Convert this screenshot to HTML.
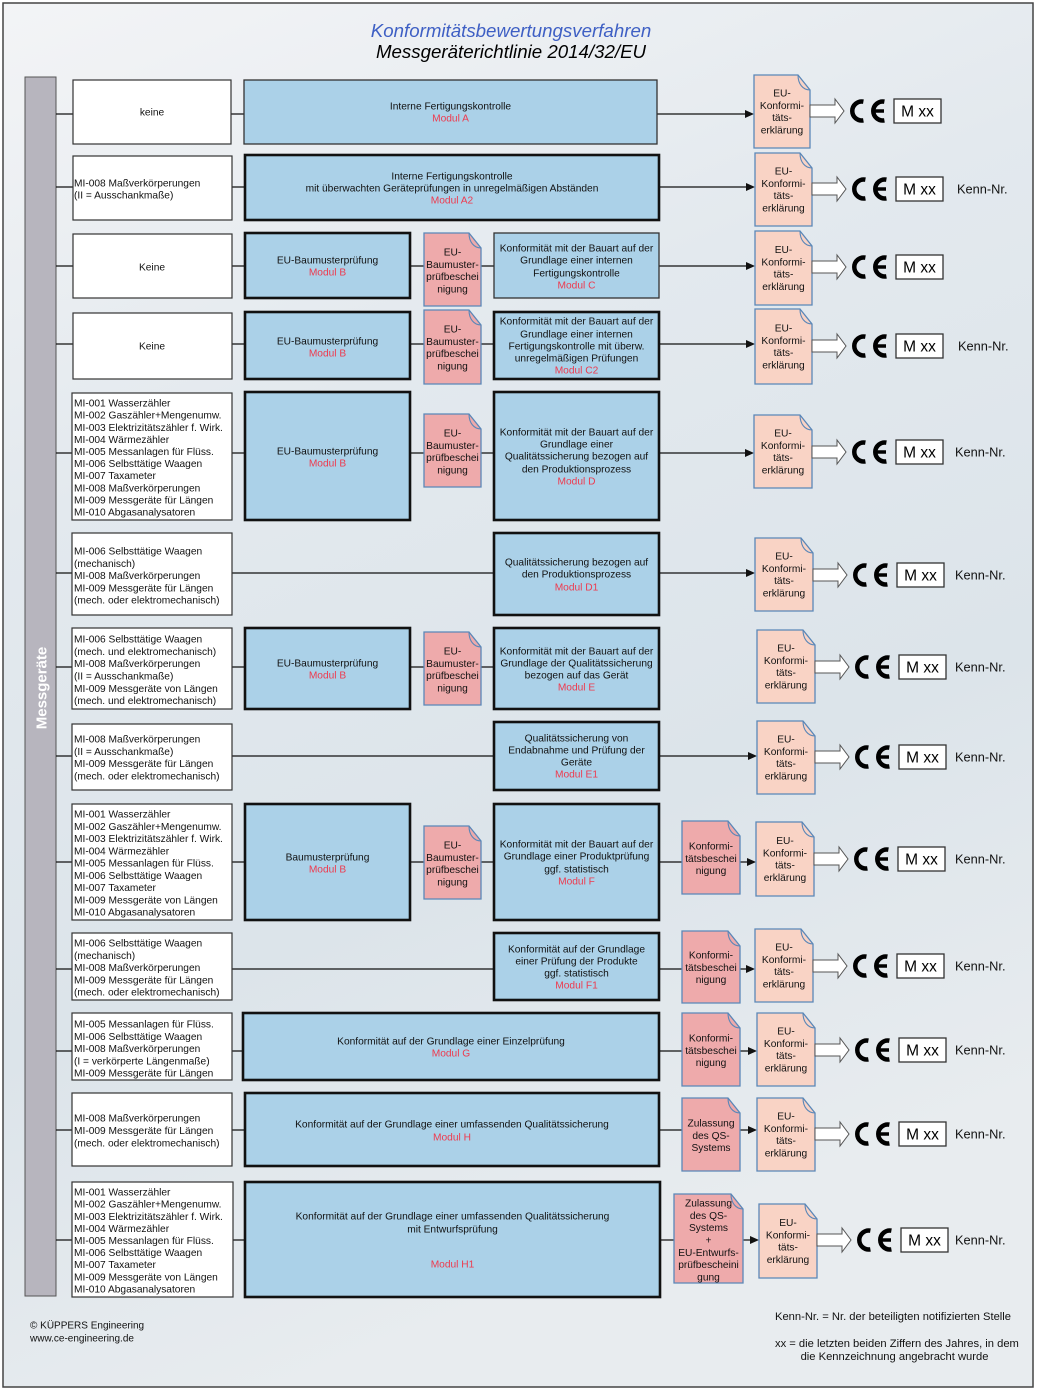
<!DOCTYPE html>
<html><head><meta charset="utf-8"><style>
html,body{margin:0;padding:0;background:#fff;width:1040px;height:1390px;overflow:hidden}
svg{display:block}
.t{font-family:"Liberation Sans",Arial,sans-serif;font-size:10.2px;fill:#111}
.m{fill:#ee3a4e}
.c{text-anchor:middle}
.ln{stroke:#111;stroke-width:1.2;fill:none}
.lb{fill:#fff;stroke:#333;stroke-width:1.2}
.bt{fill:#abd1e8;stroke:#333;stroke-width:1.3}
.bk{fill:#abd1e8;stroke:#111;stroke-width:2.6}
.de{fill:#f9d3c5;stroke:#5a87b8;stroke-width:1.3}
.dp{fill:#eeaaab;stroke:#5a87b8;stroke-width:1.3}
.fold{fill:none;stroke:#5a87b8;stroke-width:1.1}
.mx{font-family:"Liberation Sans",Arial,sans-serif;font-size:15.5px;fill:#000;text-anchor:middle}
.kn{font-family:"Liberation Sans",Arial,sans-serif;font-size:12.8px;fill:#111}
</style></head><body>
<svg width="1040" height="1390" viewBox="0 0 1040 1390" xmlns="http://www.w3.org/2000/svg">
<defs>
<linearGradient id="bg" x1="0" y1="0" x2="0.3" y2="1">
<stop offset="0" stop-color="#f3f4f6"/>
<stop offset="0.35" stop-color="#e3e9ee"/>
<stop offset="0.7" stop-color="#dce4ea"/>
<stop offset="1" stop-color="#e8ecef"/>
</linearGradient>
<g id="ce">
<polygon points="0,-6 25,-6 25,-12 34,0 25,12 25,6 0,6" fill="#fff" stroke="#555" stroke-width="1"/>
<path d="M53.4 -9.36 A9.5 9.5 0 1 0 53.4 9.36" fill="none" stroke="#000" stroke-width="4.5"/>
<path d="M74.4 -9.36 A9.5 9.5 0 1 0 74.4 9.36" fill="none" stroke="#000" stroke-width="4.5"/>
<path d="M64 0 H74" stroke="#000" stroke-width="3.5"/>
<rect x="84" y="-12" width="47" height="24" fill="#fff" stroke="#333" stroke-width="1.3"/>
</g>
</defs>

<rect x="3" y="3" width="1030" height="1384" fill="url(#bg)" stroke="#444" stroke-width="1.5"/>

<text x="511" y="37" class="c" style="font-family:'Liberation Sans',Arial,sans-serif;font-size:18.7px;font-style:italic;fill:#3e5fc4">Konformitätsbewertungsverfahren</text>
<text x="511" y="58" class="c" style="font-family:'Liberation Sans',Arial,sans-serif;font-size:18.7px;font-style:italic;fill:#000">Messgeräterichtlinie 2014/32/EU</text>

<!-- sidebar -->
<rect x="25" y="77" width="31" height="1219" fill="#b7b5be" stroke="#555" stroke-width="1"/>
<text transform="translate(46.5,688) rotate(-90)" class="c" style="font-family:'Liberation Sans',Arial,sans-serif;font-size:15px;font-weight:bold;fill:#fff">Messgeräte</text>

<!-- connectors -->
<g class="ln">
<path d="M56 114H73M231 114H244M657 114H746"/>
<path d="M56 187H73M232 187H245M659 187H747"/>
<path d="M56 266H73M232 266H245M410 266H424M481 266H494M659 266H747"/>
<path d="M56 344H73M232 344H245M410 344H424M481 344H494M659 344H747"/>
<path d="M56 453H72M232 453H245M410 453H424M481 453H494M659 453H746"/>
<path d="M56 573H72M232 573H494M659 573H747"/>
<path d="M56 667H72M232 667H245M410 667H424M481 667H494"/>
<path d="M56 756H72M232 756H494M659 756H749"/>
<path d="M56 862H72M232 862H245M410 862H424M481 862H494M659 862H682M740 862H748"/>
<path d="M56 969H72M232 969H494M659 969H682M740 969H747"/>
<path d="M56 1051H72M232 1051H243M659 1051H682M740 1051H749"/>
<path d="M56 1130H72M232 1130H245M659 1130H682M740 1130H749"/>
<path d="M56 1240H72M233 1240H245M660 1240H674M743 1240H751"/>
</g>
<g fill="#111">
<polygon points="754,114 745,110 745,118"/>
<polygon points="755,187 746,183 746,191"/>
<polygon points="755,266 746,262 746,270"/>
<polygon points="755,344 746,340 746,348"/>
<polygon points="754,453 745,449 745,457"/>
<polygon points="755,573 746,569 746,577"/>
<polygon points="757,756 748,752 748,760"/>
<polygon points="756,862 747,858 747,866"/>
<polygon points="755,969 746,965 746,973"/>
<polygon points="757,1051 748,1047 748,1055"/>
<polygon points="757,1130 748,1126 748,1134"/>
<polygon points="759,1240 750,1236 750,1244"/>
</g>

<!-- left boxes -->
<rect class="lb" x="73" y="80" width="158" height="64"/>
<rect class="lb" x="73" y="156" width="159" height="64"/>
<rect class="lb" x="73" y="234" width="159" height="64"/>
<rect class="lb" x="73" y="313" width="159" height="66"/>
<rect class="lb" x="72" y="393" width="160" height="127"/>
<rect class="lb" x="72" y="533" width="160" height="82"/>
<rect class="lb" x="72" y="628" width="160" height="81"/>
<rect class="lb" x="72" y="724" width="160" height="66"/>
<rect class="lb" x="72" y="804" width="160" height="116"/>
<rect class="lb" x="72" y="933" width="160" height="67"/>
<rect class="lb" x="72" y="1013" width="160" height="67"/>
<rect class="lb" x="72" y="1093" width="160" height="73"/>
<rect class="lb" x="72" y="1182" width="161" height="115"/>

<text class="t c" x="152" y="115.6">keine</text>
<text class="t" x="74" y="186.6">MI-008 Maßverkörperungen<tspan x="74" dy="12">(II = Ausschankmaße)</tspan></text>
<text class="t c" x="152" y="270.6">Keine</text>
<text class="t c" x="152" y="349.6">Keine</text>
<text class="t" x="74" y="406.6">MI-001 Wasserzähler<tspan x="74" dy="12.1">MI-002 Gaszähler+Mengenumw.</tspan><tspan x="74" dy="12.1">MI-003 Elektrizitätszähler f. Wirk.</tspan><tspan x="74" dy="12.1">MI-004 Wärmezähler</tspan><tspan x="74" dy="12.1">MI-005 Messanlagen für Flüss.</tspan><tspan x="74" dy="12.1">MI-006 Selbsttätige Waagen</tspan><tspan x="74" dy="12.1">MI-007 Taxameter</tspan><tspan x="74" dy="12.1">MI-008 Maßverkörperungen</tspan><tspan x="74" dy="12.1">MI-009 Messgeräte für Längen</tspan><tspan x="74" dy="12.1">MI-010 Abgasanalysatoren</tspan></text>
<text class="t" x="74" y="554.6">MI-006 Selbsttätige Waagen<tspan x="74" dy="12.25">(mechanisch)</tspan><tspan x="74" dy="12.25">MI-008 Maßverkörperungen</tspan><tspan x="74" dy="12.25">MI-009 Messgeräte für Längen</tspan><tspan x="74" dy="12.25">(mech. oder elektromechanisch)</tspan></text>
<text class="t" x="74" y="642.6">MI-006 Selbsttätige Waagen<tspan x="74" dy="12.3">(mech. und elektromechanisch)</tspan><tspan x="74" dy="12.3">MI-008 Maßverkörperungen</tspan><tspan x="74" dy="12.3">(II = Ausschankmaße)</tspan><tspan x="74" dy="12.3">MI-009 Messgeräte von Längen</tspan><tspan x="74" dy="12.3">(mech. und elektromechanisch)</tspan></text>
<text class="t" x="74" y="742.6">MI-008 Maßverkörperungen<tspan x="74" dy="12.3">(II = Ausschankmaße)</tspan><tspan x="74" dy="12.3">MI-009 Messgeräte für Längen</tspan><tspan x="74" dy="12.3">(mech. oder elektromechanisch)</tspan></text>
<text class="t" x="74" y="817.6">MI-001 Wasserzähler<tspan x="74" dy="12.25">MI-002 Gaszähler+Mengenumw.</tspan><tspan x="74" dy="12.25">MI-003 Elektrizitätszähler f. Wirk.</tspan><tspan x="74" dy="12.25">MI-004 Wärmezähler</tspan><tspan x="74" dy="12.25">MI-005 Messanlagen für Flüss.</tspan><tspan x="74" dy="12.25">MI-006 Selbsttätige Waagen</tspan><tspan x="74" dy="12.25">MI-007 Taxameter</tspan><tspan x="74" dy="12.25">MI-009 Messgeräte von Längen</tspan><tspan x="74" dy="12.25">MI-010 Abgasanalysatoren</tspan></text>
<text class="t" x="74" y="946.6">MI-006 Selbsttätige Waagen<tspan x="74" dy="12.25">(mechanisch)</tspan><tspan x="74" dy="12.25">MI-008 Maßverkörperungen</tspan><tspan x="74" dy="12.25">MI-009 Messgeräte für Längen</tspan><tspan x="74" dy="12.25">(mech. oder elektromechanisch)</tspan></text>
<text class="t" x="74" y="1027.6">MI-005 Messanlagen für Flüss.<tspan x="74" dy="12.25">MI-006 Selbsttätige Waagen</tspan><tspan x="74" dy="12.25">MI-008 Maßverkörperungen</tspan><tspan x="74" dy="12.25">(I = verkörperte Längenmaße)</tspan><tspan x="74" dy="12.25">MI-009 Messgeräte für Längen</tspan></text>
<text class="t" x="74" y="1121.6">MI-008 Maßverkörperungen<tspan x="74" dy="12.4">MI-009 Messgeräte für Längen</tspan><tspan x="74" dy="12.4">(mech. oder elektromechanisch)</tspan></text>
<text class="t" x="74" y="1195.6">MI-001 Wasserzähler<tspan x="74" dy="12.1">MI-002 Gaszähler+Mengenumw.</tspan><tspan x="74" dy="12.1">MI-003 Elektrizitätszähler f. Wirk.</tspan><tspan x="74" dy="12.1">MI-004 Wärmezähler</tspan><tspan x="74" dy="12.1">MI-005 Messanlagen für Flüss.</tspan><tspan x="74" dy="12.1">MI-006 Selbsttätige Waagen</tspan><tspan x="74" dy="12.1">MI-007 Taxameter</tspan><tspan x="74" dy="12.1">MI-009 Messgeräte von Längen</tspan><tspan x="74" dy="12.1">MI-010 Abgasanalysatoren</tspan></text>

<!-- blue boxes -->
<rect class="bt" x="244" y="80" width="413" height="64"/>
<rect class="bk" x="245" y="155" width="414" height="65"/>
<rect class="bk" x="245" y="233" width="165" height="65"/>
<rect class="bt" x="494" y="233" width="165" height="65"/>
<rect class="bk" x="245" y="312" width="165" height="67"/>
<rect class="bk" x="494" y="312" width="165" height="67"/>
<rect class="bk" x="245" y="392" width="165" height="128"/>
<rect class="bk" x="494" y="392" width="165" height="128"/>
<rect class="bk" x="494" y="533" width="165" height="82"/>
<rect class="bk" x="245" y="628" width="165" height="81"/>
<rect class="bk" x="494" y="628" width="165" height="81"/>
<rect class="bk" x="494" y="722" width="165" height="68"/>
<rect class="bk" x="245" y="804" width="165" height="116"/>
<rect class="bk" x="494" y="804" width="165" height="116"/>
<rect class="bk" x="494" y="933" width="165" height="67"/>
<rect class="bk" x="243" y="1013" width="416" height="67"/>
<rect class="bk" x="245" y="1093" width="414" height="73"/>
<rect class="bk" x="245" y="1182" width="415" height="115"/>

<g class="t c">
<text x="450.5" y="109.6">Interne Fertigungskontrolle</text>
<text x="450.5" y="121.6" class="m">Modul A</text>
<text x="452" y="179.6">Interne Fertigungskontrolle</text>
<text x="452" y="191.6">mit überwachten Geräteprüfungen in unregelmäßigen Abständen</text>
<text x="452" y="203.6" class="m">Modul A2</text>

<text x="327.5" y="263.6">EU-Baumusterprüfung</text>
<text x="327.5" y="275.6" class="m">Modul B</text>
<text x="576.5" y="251.6">Konformität mit der Bauart auf der</text>
<text x="576.5" y="263.6">Grundlage einer internen</text>
<text x="576.5" y="276.6">Fertigungskontrolle</text>
<text x="576.5" y="288.6" class="m">Modul C</text>

<text x="327.5" y="344.6">EU-Baumusterprüfung</text>
<text x="327.5" y="356.6" class="m">Modul B</text>
<text x="576.5" y="324.6">Konformität mit der Bauart auf der</text>
<text x="576.5" y="337.6">Grundlage einer internen</text>
<text x="576.5" y="349.6">Fertigungskontrolle mit überw.</text>
<text x="576.5" y="361.6">unregelmäßigen Prüfungen</text>
<text x="576.5" y="373.6" class="m">Modul C2</text>

<text x="327.5" y="454.6">EU-Baumusterprüfung</text>
<text x="327.5" y="466.6" class="m">Modul B</text>
<text x="576.5" y="435.6">Konformität mit der Bauart auf der</text>
<text x="576.5" y="447.6">Grundlage einer</text>
<text x="576.5" y="459.6">Qualitätssicherung bezogen auf</text>
<text x="576.5" y="472.6">den Produktionsprozess</text>
<text x="576.5" y="484.6" class="m">Modul D</text>

<text x="576.5" y="565.6">Qualitätssicherung bezogen auf</text>
<text x="576.5" y="577.6">den Produktionsprozess</text>
<text x="576.5" y="590.6" class="m">Modul D1</text>

<text x="327.5" y="666.6">EU-Baumusterprüfung</text>
<text x="327.5" y="678.6" class="m">Modul B</text>
<text x="576.5" y="654.6">Konformität mit der Bauart auf der</text>
<text x="576.5" y="666.6">Grundlage der Qualitätssicherung</text>
<text x="576.5" y="678.6">bezogen auf das Gerät</text>
<text x="576.5" y="690.6" class="m">Modul E</text>

<text x="576.5" y="741.6">Qualitätssicherung von</text>
<text x="576.5" y="753.6">Endabnahme und Prüfung der</text>
<text x="576.5" y="765.6">Geräte</text>
<text x="576.5" y="777.6" class="m">Modul E1</text>

<text x="327.5" y="860.6">Baumusterprüfung</text>
<text x="327.5" y="872.6" class="m">Modul B</text>
<text x="576.5" y="847.6">Konformität mit der Bauart auf der</text>
<text x="576.5" y="859.6">Grundlage einer Produktprüfung</text>
<text x="576.5" y="872.6">ggf. statistisch</text>
<text x="576.5" y="884.6" class="m">Modul F</text>

<text x="576.5" y="952.6">Konformität auf der Grundlage</text>
<text x="576.5" y="964.6">einer Prüfung der Produkte</text>
<text x="576.5" y="976.6">ggf. statistisch</text>
<text x="576.5" y="988.6" class="m">Modul F1</text>

<text x="451" y="1044.6">Konformität auf der Grundlage einer Einzelprüfung</text>
<text x="451" y="1056.6" class="m">Modul G</text>

<text x="452" y="1127.6">Konformität auf der Grundlage einer umfassenden Qualitätssicherung</text>
<text x="452" y="1140.6" class="m">Modul H</text>

<text x="452.5" y="1219.6">Konformität auf der Grundlage einer umfassenden Qualitätssicherung</text>
<text x="452.5" y="1232.6">mit Entwurfsprüfung</text>
<text x="452.5" y="1267.6" class="m">Modul H1</text>
</g>

<!-- pink documents -->
<path class="dp" d="M424 233H469L481 248V306H424Z"/><path class="fold" d="M469 233C469 242 474 248 481 248"/>
<path class="dp" d="M424 310H469L481 325V384H424Z"/><path class="fold" d="M469 310C469 319 474 325 481 325"/>
<path class="dp" d="M424 414H469L481 429V487H424Z"/><path class="fold" d="M469 414C469 423 474 429 481 429"/>
<path class="dp" d="M424 632H469L481 647V705H424Z"/><path class="fold" d="M469 632C469 641 474 647 481 647"/>
<path class="dp" d="M424 826H469L481 841V899H424Z"/><path class="fold" d="M469 826C469 835 474 841 481 841"/>
<path class="dp" d="M682 821H728L740 836V894H682Z"/><path class="fold" d="M728 821C728 830 733 836 740 836"/>
<path class="dp" d="M682 931H728L740 946V1003H682Z"/><path class="fold" d="M728 931C728 940 733 946 740 946"/>
<path class="dp" d="M682 1013H728L740 1028V1086H682Z"/><path class="fold" d="M728 1013C728 1022 733 1028 740 1028"/>
<path class="dp" d="M682 1098H728L740 1113V1171H682Z"/><path class="fold" d="M728 1098C728 1107 733 1113 740 1113"/>
<path class="dp" d="M674 1194H731L743 1209V1283H674Z"/><path class="fold" d="M731 1194C731 1203 736 1209 743 1209"/>

<g class="t c">
<text x="452.5" y="255.6">EU-<tspan x="452.5" dy="12.3">Baumuster-</tspan><tspan x="452.5" dy="12.3">prüfbeschei</tspan><tspan x="452.5" dy="12.3">nigung</tspan></text>
<text x="452.5" y="332.6">EU-<tspan x="452.5" dy="12.3">Baumuster-</tspan><tspan x="452.5" dy="12.3">prüfbeschei</tspan><tspan x="452.5" dy="12.3">nigung</tspan></text>
<text x="452.5" y="436.6">EU-<tspan x="452.5" dy="12.3">Baumuster-</tspan><tspan x="452.5" dy="12.3">prüfbeschei</tspan><tspan x="452.5" dy="12.3">nigung</tspan></text>
<text x="452.5" y="654.6">EU-<tspan x="452.5" dy="12.3">Baumuster-</tspan><tspan x="452.5" dy="12.3">prüfbeschei</tspan><tspan x="452.5" dy="12.3">nigung</tspan></text>
<text x="452.5" y="848.6">EU-<tspan x="452.5" dy="12.3">Baumuster-</tspan><tspan x="452.5" dy="12.3">prüfbeschei</tspan><tspan x="452.5" dy="12.3">nigung</tspan></text>
<text x="711" y="849.6">Konformi-<tspan x="711" dy="12.3">tätsbeschei</tspan><tspan x="711" dy="12.3">nigung</tspan></text>
<text x="711" y="958.6">Konformi-<tspan x="711" dy="12.3">tätsbeschei</tspan><tspan x="711" dy="12.3">nigung</tspan></text>
<text x="711" y="1041.6">Konformi-<tspan x="711" dy="12.3">tätsbeschei</tspan><tspan x="711" dy="12.3">nigung</tspan></text>
<text x="711" y="1126.6">Zulassung<tspan x="711" dy="12.3">des QS-</tspan><tspan x="711" dy="12.3">Systems</tspan></text>
<text x="708.5" y="1206.6">Zulassung<tspan x="708.5" dy="12.3">des QS-</tspan><tspan x="708.5" dy="12.3">Systems</tspan><tspan x="708.5" dy="12.3">+</tspan><tspan x="708.5" dy="12.3">EU-Entwurfs-</tspan><tspan x="708.5" dy="12.3">prüfbescheini</tspan><tspan x="708.5" dy="12.3">gung</tspan></text>
</g>

<!-- EU declaration documents -->
<path class="de" d="M754 75H798L810 90V148H754Z"/><path class="fold" d="M798 75C798 84 803 90 810 90"/>
<path class="de" d="M755 153H800L812 168V226H755Z"/><path class="fold" d="M800 153C800 162 805 168 812 168"/>
<path class="de" d="M755 231H800L812 246V305H755Z"/><path class="fold" d="M800 231C800 240 805 246 812 246"/>
<path class="de" d="M755 309H800L812 324V384H755Z"/><path class="fold" d="M800 309C800 318 805 324 812 324"/>
<path class="de" d="M754 415H800L812 430V488H754Z"/><path class="fold" d="M800 415C800 424 805 430 812 430"/>
<path class="de" d="M755 538H801L813 553V611H755Z"/><path class="fold" d="M801 538C801 547 806 553 813 553"/>
<path class="de" d="M757 630H803L815 645V703H757Z"/><path class="fold" d="M803 630C803 639 808 645 815 645"/>
<path class="de" d="M757 721H803L815 736V794H757Z"/><path class="fold" d="M803 721C803 730 808 736 815 736"/>
<path class="de" d="M756 822H802L814 837V896H756Z"/><path class="fold" d="M802 822C802 831 807 837 814 837"/>
<path class="de" d="M755 929H801L813 944V1002H755Z"/><path class="fold" d="M801 929C801 938 806 944 813 944"/>
<path class="de" d="M757 1013H803L815 1028V1086H757Z"/><path class="fold" d="M803 1013C803 1022 808 1028 815 1028"/>
<path class="de" d="M757 1098H803L815 1113V1171H757Z"/><path class="fold" d="M803 1098C803 1107 808 1113 815 1113"/>
<path class="de" d="M759 1204H805L817 1219V1278H759Z"/><path class="fold" d="M805 1204C805 1213 810 1219 817 1219"/>

<g class="t c">
<text x="782" y="96.6">EU-<tspan x="782" dy="12.3">Konformi-</tspan><tspan x="782" dy="12.3">täts-</tspan><tspan x="782" dy="12.3">erklärung</tspan></text>
<text x="783.5" y="174.6">EU-<tspan x="783.5" dy="12.3">Konformi-</tspan><tspan x="783.5" dy="12.3">täts-</tspan><tspan x="783.5" dy="12.3">erklärung</tspan></text>
<text x="783.5" y="253.1">EU-<tspan x="783.5" dy="12.3">Konformi-</tspan><tspan x="783.5" dy="12.3">täts-</tspan><tspan x="783.5" dy="12.3">erklärung</tspan></text>
<text x="783.5" y="331.6">EU-<tspan x="783.5" dy="12.3">Konformi-</tspan><tspan x="783.5" dy="12.3">täts-</tspan><tspan x="783.5" dy="12.3">erklärung</tspan></text>
<text x="783" y="436.6">EU-<tspan x="783" dy="12.3">Konformi-</tspan><tspan x="783" dy="12.3">täts-</tspan><tspan x="783" dy="12.3">erklärung</tspan></text>
<text x="784" y="559.6">EU-<tspan x="784" dy="12.3">Konformi-</tspan><tspan x="784" dy="12.3">täts-</tspan><tspan x="784" dy="12.3">erklärung</tspan></text>
<text x="786" y="651.6">EU-<tspan x="786" dy="12.3">Konformi-</tspan><tspan x="786" dy="12.3">täts-</tspan><tspan x="786" dy="12.3">erklärung</tspan></text>
<text x="786" y="742.6">EU-<tspan x="786" dy="12.3">Konformi-</tspan><tspan x="786" dy="12.3">täts-</tspan><tspan x="786" dy="12.3">erklärung</tspan></text>
<text x="785" y="844.1">EU-<tspan x="785" dy="12.3">Konformi-</tspan><tspan x="785" dy="12.3">täts-</tspan><tspan x="785" dy="12.3">erklärung</tspan></text>
<text x="784" y="950.6">EU-<tspan x="784" dy="12.3">Konformi-</tspan><tspan x="784" dy="12.3">täts-</tspan><tspan x="784" dy="12.3">erklärung</tspan></text>
<text x="786" y="1034.6">EU-<tspan x="786" dy="12.3">Konformi-</tspan><tspan x="786" dy="12.3">täts-</tspan><tspan x="786" dy="12.3">erklärung</tspan></text>
<text x="786" y="1119.6">EU-<tspan x="786" dy="12.3">Konformi-</tspan><tspan x="786" dy="12.3">täts-</tspan><tspan x="786" dy="12.3">erklärung</tspan></text>
<text x="788" y="1226.1">EU-<tspan x="788" dy="12.3">Konformi-</tspan><tspan x="788" dy="12.3">täts-</tspan><tspan x="788" dy="12.3">erklärung</tspan></text>
</g>

<!-- CE marks -->
<use href="#ce" transform="translate(810,111)"/>
<use href="#ce" transform="translate(812,189)"/>
<use href="#ce" transform="translate(812,267)"/>
<use href="#ce" transform="translate(812,346)"/>
<use href="#ce" transform="translate(812,452)"/>
<use href="#ce" transform="translate(813,575)"/>
<use href="#ce" transform="translate(815,667)"/>
<use href="#ce" transform="translate(815,757)"/>
<use href="#ce" transform="translate(814,859)"/>
<use href="#ce" transform="translate(813,966)"/>
<use href="#ce" transform="translate(815,1050)"/>
<use href="#ce" transform="translate(815,1134)"/>
<use href="#ce" transform="translate(817,1240)"/>

<text class="mx" x="917.5" y="116.5">M xx</text>
<text class="mx" x="919.5" y="194.5">M xx</text>
<text class="mx" x="919.5" y="272.5">M xx</text>
<text class="mx" x="919.5" y="351.5">M xx</text>
<text class="mx" x="919.5" y="457.5">M xx</text>
<text class="mx" x="920.5" y="580.5">M xx</text>
<text class="mx" x="922.5" y="672.5">M xx</text>
<text class="mx" x="922.5" y="762.5">M xx</text>
<text class="mx" x="921.5" y="864.5">M xx</text>
<text class="mx" x="920.5" y="971.5">M xx</text>
<text class="mx" x="922.5" y="1055.5">M xx</text>
<text class="mx" x="922.5" y="1139.5">M xx</text>
<text class="mx" x="924.5" y="1245.5">M xx</text>

<text class="kn" x="957" y="193.5">Kenn-Nr.</text>
<text class="kn" x="958" y="350.5">Kenn-Nr.</text>
<text class="kn" x="955" y="456.5">Kenn-Nr.</text>
<text class="kn" x="955" y="579.5">Kenn-Nr.</text>
<text class="kn" x="955" y="671.5">Kenn-Nr.</text>
<text class="kn" x="955" y="761.5">Kenn-Nr.</text>
<text class="kn" x="955" y="863.5">Kenn-Nr.</text>
<text class="kn" x="955" y="970.5">Kenn-Nr.</text>
<text class="kn" x="955" y="1054.5">Kenn-Nr.</text>
<text class="kn" x="955" y="1138.5">Kenn-Nr.</text>
<text class="kn" x="955" y="1244.5">Kenn-Nr.</text>

<!-- footer -->
<text class="t" x="30" y="1328.5" style="font-size:10px">© KÜPPERS Engineering</text>
<text class="t" x="30" y="1341.5" style="font-size:10px">www.ce-engineering.de</text>
<text class="t" x="775" y="1320" style="font-size:11.2px">Kenn-Nr. = Nr. der beteiligten notifizierten Stelle</text>
<text class="t" x="775" y="1347" style="font-size:11.2px">xx = die letzten beiden Ziffern des Jahres, in dem</text>
<text class="t c" x="894.5" y="1360" style="font-size:11.2px">die Kennzeichnung angebracht wurde</text>
</svg>
</body></html>
